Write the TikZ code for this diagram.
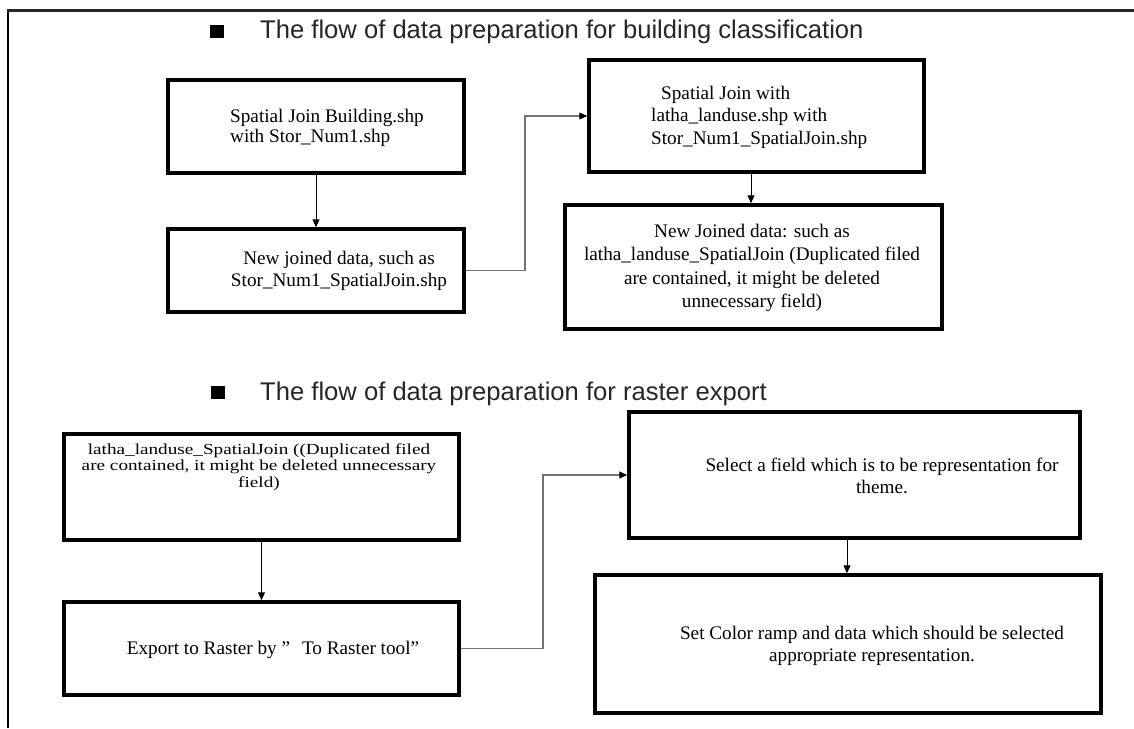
\documentclass[tikz,border=0pt]{standalone}
\usepackage{fontspec}
\setmainfont{Liberation Serif}
\newfontfamily\headfont{Liberation Sans}
\usetikzlibrary{arrows.meta}
\begin{document}
\begin{tikzpicture}[x=1pt,y=-1pt,
  box/.style={draw=black,line width=3.5pt,inner sep=0pt},
  bodytext/.style={inner sep=0pt,font=\fontsize{19.2}{22.5}\selectfont},
  headtext/.style={inner sep=0pt,anchor=base west,font=\headfont\fontsize{25.6}{28}\selectfont,text=black!85},
  bullet/.style={fill=black,inner sep=0pt,minimum width=14pt,minimum height=13pt},
  arr/.style={line width=1pt,-{Triangle[length=8pt,width=7pt]}},
  link/.style={line width=1.2pt,draw=black!55,-{Triangle[length=8pt,width=7pt,fill=black,color=black]}}]
\useasboundingbox (0,0) rectangle (1134,728);
% outer frame (left and top edges only)
\draw[line width=1.5pt] (8,728) -- (8,10.5);
\draw[line width=2.2pt,black!85] (7.25,10.5) -- (1134,10.5);

% section headings
\node[bullet] (q1) at (216.5,31) {};
\node[headtext] (h1) at (260,38) {The flow of data preparation for building classification};
\node[bullet] (q2) at (218,392) {};
\node[headtext] (h2) at (260,400) {The flow of data preparation for raster export};

% building classification flow
\node[box,minimum width=296,minimum height=93] (b1) at (316,126.5) {};
\node[box,minimum width=296,minimum height=83] (b2) at (316,270.5) {};
\node[box,minimum width=335,minimum height=112] (b3) at (756.5,116) {};
\node[box,minimum width=377,minimum height=124] (b4) at (753.3,267) {};

\node[bodytext,anchor=west,align=left,font=\fontsize{19.2}{20.5}\selectfont] (t1) at (230,128)
  {Spatial Join Building.shp\\with Stor\_Num1.shp};
\node[bodytext,align=center] (t2) at (339,271)
  {New joined data, such as\\Stor\_Num1\_SpatialJoin.shp};
\node[bodytext,anchor=west,align=left] (t3) at (651,117)
  {\hspace*{10pt}Spatial Join with\\latha\_landuse.shp with\\Stor\_Num1\_SpatialJoin.shp};
\node[bodytext,align=center,font=\fontsize{19.2}{23.3}\selectfont] (t4) at (752,268)
  {New Joined data: such as\\latha\_landuse\_SpatialJoin (Duplicated filed\\are contained, it might be deleted\\unnecessary field)};

% raster export flow
\node[box,minimum width=395,minimum height=106] (b5) at (261.5,487) {};
\node[box,minimum width=395,minimum height=93] (b6) at (261.5,648.5) {};
\node[box,minimum width=451,minimum height=126] (b7) at (854.5,475) {};
\node[box,minimum width=506,minimum height=138] (b8) at (848,644) {};

\node[bodytext] (t5) at (259,467)
  {\scalebox{1}[0.8]{\begin{tabular}{@{}c@{}}latha\_landuse\_SpatialJoin ((Duplicated filed\\[-2pt]are contained, it might be deleted unnecessary\\[-2pt]field)\end{tabular}}};
\node[bodytext] (t6) at (273,650) {Export to Raster by ”\hspace{12pt}To Raster tool”};
\node[bodytext,align=center] (t7) at (882,476)
  {Select a field which is to be representation for\\theme.};
\node[bodytext,align=center] (t8) at (872,646)
  {Set Color ramp and data which should be selected\\appropriate representation.};

% connectors
\coordinate (k34) at (751,0);
\coordinate (k78) at (847,0);
\coordinate (k23) at (525,0);
\coordinate (k67) at (543,0);
\draw[arr] (b1.south) -- (b2.north);
\draw[arr] (b3.south -| k34) -- (b4.north -| k34);
\draw[arr] (b5.south) -- (b6.north);
\draw[arr] (b7.south -| k78) -- (b8.north -| k78);
\draw[link] (b2.east) -| (k23 |- b3.west) -- (b3.west);
\draw[link] (b6.east) -| (k67 |- b7.west) -- (b7.west);
\end{tikzpicture}
\end{document}
